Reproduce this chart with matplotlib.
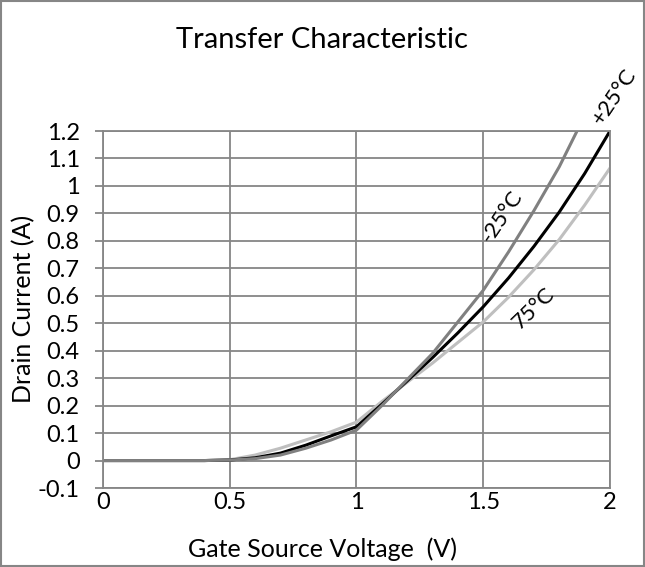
import numpy as np
import matplotlib.pyplot as plt
from matplotlib.patches import Rectangle

# gate-source voltage (V)
vgs = [0.0, 0.1, 0.2, 0.3, 0.4, 0.5, 0.6, 0.7, 0.8, 0.9, 1.0,
       1.1, 1.2, 1.3, 1.4, 1.5, 1.6, 1.7, 1.8, 1.9, 2.0]

# drain current (A)
id_p25 = [0, 0, 0, 0, 0, 0.002, 0.01, 0.027, 0.056, 0.09, 0.123,
          0.205, 0.29, 0.375, 0.465, 0.56, 0.665, 0.78, 0.905, 1.045, 1.2]
vgs_m25 = [0.0, 0.1, 0.2, 0.3, 0.4, 0.5, 0.6, 0.7, 0.8, 0.9, 1.0,
           1.1, 1.2, 1.3, 1.4, 1.5, 1.6, 1.7, 1.8, 1.87]
id_m25 = [0, 0, 0, 0, 0, 0.002, 0.007, 0.02, 0.045, 0.075, 0.111,
          0.2, 0.295, 0.39, 0.505, 0.62, 0.76, 0.91, 1.07, 1.2]
id_75 = [0, 0, 0, 0, 0, 0.003, 0.02, 0.045, 0.075, 0.105, 0.14,
         0.215, 0.285, 0.355, 0.43, 0.505, 0.595, 0.695, 0.805, 0.93, 1.065]

xticks = [0, 0.5, 1, 1.5, 2]
xlabels = ['0', '0.5', '1', '1.5', '2']
yticks = [-0.1, 0, 0.1, 0.2, 0.3, 0.4, 0.5, 0.6, 0.7, 0.8, 0.9, 1.0, 1.1, 1.2]
ylabels = ['-0.1', '0', '0.1', '0.2', '0.3', '0.4', '0.5', '0.6', '0.7',
           '0.8', '0.9', '1', '1.1', '1.2']

plt.rcParams['font.family'] = ['Lato', 'DejaVu Sans']
grid_c = '#868686'

fig = plt.figure(figsize=(6.45, 5.67), dpi=100)
fig.patches.append(Rectangle((0.002, 0.002), 0.996, 0.996, transform=fig.transFigure,
                             fill=False, edgecolor=grid_c, linewidth=1.5))
ax = fig.add_axes([0.1597, 0.1393, 0.786, 0.6296])

ax.plot(vgs, id_75, color='#bfbfbf', lw=2.2)
ax.plot(vgs, id_p25, color='black', lw=2.2)
ax.plot(vgs_m25, id_m25, color='#808080', lw=2.2)

ax.set_xlim(0, 2)
ax.set_ylim(-0.1, 1.2)
ax.set_xticks(xticks)
ax.set_xticklabels(xlabels)
ax.set_yticks(yticks)
ax.set_yticklabels(ylabels)
ax.grid(True, color=grid_c, lw=1.3)
for s in ax.spines.values():
    s.set_color(grid_c)
    s.set_linewidth(1.3)
ax.tick_params(axis='y', colors=grid_c, labelcolor='black', labelsize=17,
               length=5.8, width=1.3, pad=11)
ax.tick_params(axis='x', colors=grid_c, labelcolor='black', labelsize=17,
               length=0, pad=3)

fig.text(0.5, 0.0185, 'Gate Source Voltage  (V)', fontsize=18, ha='center', va='baseline')
fig.text(0.037, 0.455, 'Drain Current (A)', fontsize=18, rotation=90, ha='center', va='center')
fig.text(0.5, 0.929, 'Transfer Characteristic', fontsize=21, ha='center', va='center')

ax.text(2.016, 1.324, '+25°C', rotation=56, fontsize=16, ha='center', va='center', clip_on=False)
ax.text(1.575, 0.888, '-25°C', rotation=56, fontsize=16, ha='center', va='center')
ax.text(1.70, 0.555, '75°C', rotation=44, fontsize=16, ha='center', va='center')

fig.savefig('out.png', dpi=100)
